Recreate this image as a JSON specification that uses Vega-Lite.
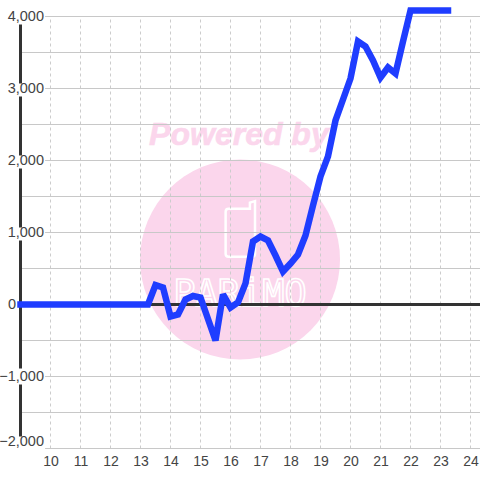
{
"$schema":"https://vega.github.io/schema/vega-lite/v6.json",
"width":459.5,"height":432,
"autosize":{"type":"none"},
"padding":{"left":20.5,"top":16.5,"right":0,"bottom":31.5},
"background":"white",
"config":{"view":{"stroke":null}},
"resolve":{"axis":{"x":"independent","y":"independent"}},
"datasets":{
"series":[
{"h":9,"v":0},{"h":9.25,"v":0},{"h":9.5,"v":0},{"h":9.75,"v":0},{"h":10,"v":0},{"h":10.25,"v":0},{"h":10.5,"v":0},{"h":10.75,"v":0},{"h":11,"v":0},{"h":11.25,"v":0},{"h":11.5,"v":0},{"h":11.75,"v":0},{"h":12,"v":0},{"h":12.25,"v":0},{"h":12.5,"v":0},{"h":12.75,"v":0},{"h":13,"v":0},{"h":13.25,"v":0},
{"h":13.5,"v":270},{"h":13.75,"v":236},{"h":14,"v":-167},{"h":14.25,"v":-139},{"h":14.5,"v":70},{"h":14.75,"v":118},{"h":15,"v":97},{"h":15.25,"v":-201},{"h":15.5,"v":-500},{"h":15.75,"v":139},{"h":16,"v":-42},{"h":16.25,"v":28},{"h":16.5,"v":292},{"h":16.75,"v":875},{"h":17,"v":944},{"h":17.25,"v":889},{"h":17.5,"v":680},{"h":17.75,"v":458},{"h":18,"v":569},{"h":18.25,"v":694},{"h":18.5,"v":958},{"h":18.75,"v":1375},{"h":19,"v":1778},{"h":19.25,"v":2056},{"h":19.5,"v":2556},{"h":19.75,"v":2847},{"h":20,"v":3139},{"h":20.25,"v":3653},{"h":20.5,"v":3583},{"h":20.75,"v":3389},{"h":21,"v":3153},{"h":21.25,"v":3292},{"h":21.5,"v":3208},{"h":21.75,"v":3653},{"h":22,"v":4083},{"h":22.25,"v":4083},{"h":22.5,"v":4083},{"h":22.75,"v":4083},{"h":23,"v":4083},{"h":23.25,"v":4083}],
"hours":[{"h":10},{"h":11},{"h":12},{"h":13},{"h":14},{"h":15},{"h":16},{"h":17},{"h":18},{"h":19},{"h":20},{"h":21},{"h":22},{"h":23},{"h":24}],
"levels":[{"v":-2000},{"v":-1500},{"v":-1000},{"v":-500},{"v":0},{"v":500},{"v":1000},{"v":1500},{"v":2000},{"v":2500},{"v":3000},{"v":3500},{"v":4000}],
"labelBoxes":[{"top":4069,"bottom":3889},{"top":3069,"bottom":2889},{"top":2069,"bottom":1889},{"top":1069,"bottom":889},{"top":-889,"bottom":-1111},{"top":-1833,"bottom":-2030}]
},
"layer":[
{"data":{"values":[{"h":16.317,"v":625}]},"mark":{"type":"point","filled":true,"fill":"#FBD6EC","stroke":null,"opacity":1,"size":40000},
 "encoding":{
  "x":{"field":"h","type":"quantitative","scale":{"domain":[9,24.3167],"nice":false,"zero":false},"axis":{"title":null,"values":[10,11,12,13,14,15,16,17,18,19,20,21,22,23,24],"grid":false,"domain":false,"ticks":false,"tickSize":0,"labelPadding":6,"labelFont":"Liberation Sans","labelFontSize":14,"labelColor":"#444444","labelOverlap":false,"labelBound":false,"labelFlush":false,"zindex":1}},
  "y":{"field":"v","type":"quantitative","scale":{"domain":[-2000,4000],"nice":false,"zero":false},"axis":{"title":null,"values":[-2000,-1000,1000,2000,3000,4000],"grid":false,"domain":false,"ticks":false,"tickSize":0,"labelPadding":-23,"labelAlign":"right","labelBaseline":{"condition":{"test":"datum.value === -2000","value":"bottom"},"value":"middle"},"labelExpr":"format(datum.value, ',')","labelFont":"Liberation Sans","labelFontSize":14.5,"labelColor":"#444444","labelOverlap":false,"labelBound":false,"labelFlush":false,"zindex":1}}}},
{"data":{"values":[{"h":16.28,"v":2222,"t":"Powered by"}]},"mark":{"type":"text","font":"Liberation Sans","fontWeight":"bold","fontStyle":"italic","fontSize":32,"fill":"#FBD6EC","stroke":"#FBD6EC","strokeWidth":0.6,"align":"center","baseline":"alphabetic"},
 "encoding":{"x":{"field":"h","type":"quantitative","axis":null},"y":{"field":"v","type":"quantitative","axis":null},"text":{"field":"t"}}},
{"data":{"values":[{"h":16.317,"v":-14,"t":"PARiMO"}]},"mark":{"type":"text","font":"DejaVu Sans Mono","fontSize":37,"fill":"#FBD6EC","stroke":"white","strokeWidth":1.6,"align":"center","baseline":"alphabetic"},
 "encoding":{"x":{"field":"h","type":"quantitative","axis":null},"y":{"field":"v","type":"quantitative","axis":null},"text":{"field":"t"}}},
{"data":{"values":[{"h":16.317,"v":1049}]},"mark":{"type":"point","filled":false,"stroke":"white","strokeWidth":2.5,"opacity":1,"size":3600,"shape":"M0.33,-0.67 L-0.38,-0.67 Q-0.48,-0.67 -0.48,-0.57 L-0.48,0.83 Q-0.48,0.93 -0.38,0.93 L0.4,0.93 Q0.5,0.93 0.5,0.83 L0.5,-0.93 L0.33,-0.88 Z"},
 "encoding":{"x":{"field":"h","type":"quantitative","axis":null},"y":{"field":"v","type":"quantitative","axis":null}}},
{"data":{"name":"hours"},"mark":{"type":"rule","color":"#cccccc","strokeWidth":1,"strokeDash":[3,3]},
 "encoding":{"x":{"field":"h","type":"quantitative","axis":null},"y":{"datum":-2000,"type":"quantitative","axis":null},"y2":{"datum":4000}}},
{"data":{"name":"levels"},"mark":{"type":"rule","color":"#c8c8c8","strokeWidth":1},
 "encoding":{"y":{"field":"v","type":"quantitative","axis":null},"x":{"datum":9,"type":"quantitative","axis":null},"x2":{"datum":24.3167}}},
{"data":{"values":[{"v":0}]},"mark":{"type":"rule","color":"#333333","strokeWidth":3},
 "encoding":{"y":{"field":"v","type":"quantitative","axis":null},"x":{"datum":9,"type":"quantitative","axis":null},"x2":{"datum":24.3167}}},
{"data":{"values":[{"h":9}]},"mark":{"type":"rule","color":"#333333","strokeWidth":3},
 "encoding":{"x":{"field":"h","type":"quantitative","axis":null},"y":{"datum":-2000,"type":"quantitative","axis":null},"y2":{"datum":4000}}},
{"data":{"name":"labelBoxes"},"mark":{"type":"rect","fill":"white","stroke":null},
 "encoding":{"x":{"datum":8.32,"type":"quantitative","axis":null},"x2":{"datum":9.82},"y":{"field":"top","type":"quantitative","axis":null},"y2":{"field":"bottom"}}},
{"data":{"values":[{"t":"0","v":0}]},"mark":{"type":"text","font":"Liberation Sans","fontSize":14.5,"color":"#444444","align":"center","baseline":"middle","x":{"expr":"scale('x', 8.72)"}},
 "encoding":{"y":{"field":"v","type":"quantitative","axis":null},"text":{"field":"t"}}},
{"data":{"name":"series"},"mark":{"type":"line","color":"#1F3DFF","strokeWidth":6.5,"strokeCap":"square","strokeJoin":"miter","strokeMiterLimit":2},
 "encoding":{"x":{"field":"h","type":"quantitative","axis":null},"y":{"field":"v","type":"quantitative","axis":null}}}
]
}
